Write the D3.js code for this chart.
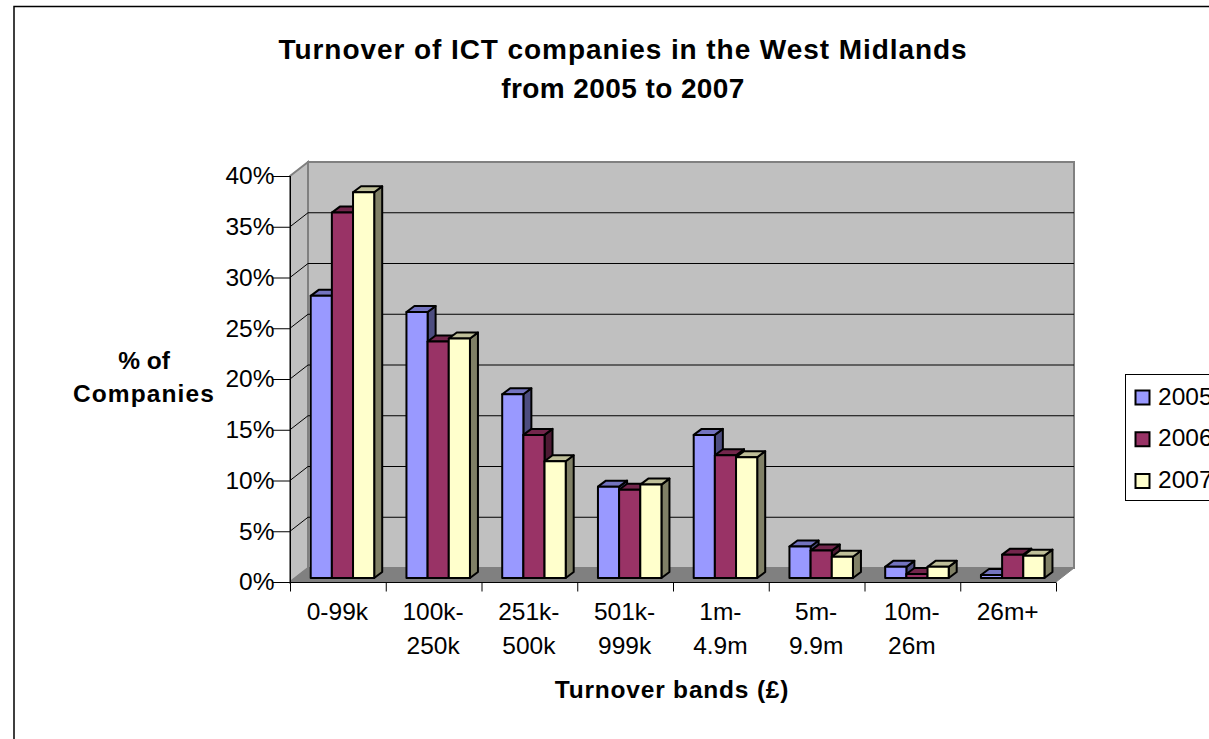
<!DOCTYPE html>
<html>
<head>
<meta charset="utf-8">
<script src="https://cdn.jsdelivr.net/npm/d3@7"></script>
<style>
	html, body { margin: 0; padding: 0; background: #fff; overflow: hidden; }
	text { font-family: "Liberation Sans", Arial, sans-serif; fill: #000; }
</style>
</head>
<body>
<div id="wrapper"></div>
<script>
// data
const bands = ["0-99k", "100k-|250k", "251k-|500k", "501k-|999k", "1m-|4.9m", "5m-|9.9m", "10m-|26m", "26m+"];
const years = ["2005", "2006", "2007"];
const values2005 = [27.8, 26.2, 18.1, 9.0, 14.1, 3.1, 1.1, 0.3];
const values2006 = [36.0, 23.3, 14.1, 8.7, 12.1, 2.7, 0.4, 2.3];
const values2007 = [38.0, 23.6, 11.5, 9.2, 11.9, 2.1, 1.1, 2.2];
const yTicks = [0, 5, 10, 15, 20, 25, 30, 35, 40];
const seriesValues = [values2005, values2006, values2007];

const frontColors = ["#9999ff", "#993366", "#ffffcc"];
const topColors = ["#7373bf", "#73264c", "#bfbf99"];
const sideColors = ["#4d4d80", "#4d1a33", "#808066"];

const width = 1209;
const height = 739;
const wall = { dx: 18, dy: -14 };   // depth of the whole box
const barDepth = { dx: 8, dy: -6 }; // depth of a bar
const barShift = { dx: 3, dy: -4 }; // bars stand a bit inside the floor

const svg = d3.select("#wrapper").append("svg").attr("width", width).attr("height", height);

// outer frame
svg.append("rect")
	.attr("x", 14).attr("y", 6.5).attr("width", width).attr("height", 800)
	.attr("fill", "#fff").attr("stroke", "#000").attr("stroke-width", 1.5);

// scales
const xScale = d3.scaleBand().domain(bands).range([290, 1056]).paddingInner(0).paddingOuter(0);
const yScale = d3.scaleLinear().domain([0, 40]).range([582, 176]);
const x0 = xScale.range()[0];
const x1 = xScale.range()[1];
const y0 = yScale(0);
const yTop = yScale(40);

// box: back wall, left wall, floor
const pts = (a) => a.map((p) => p.join(",")).join(" ");
svg.append("polygon")
	.attr("points", pts([[x0 + wall.dx, yTop + wall.dy], [x1 + wall.dx, yTop + wall.dy], [x1 + wall.dx, y0 + wall.dy], [x0 + wall.dx, y0 + wall.dy]]))
	.attr("fill", "#c0c0c0").attr("stroke", "#808080").attr("stroke-width", 2);
svg.append("polygon")
	.attr("points", pts([[x0, yTop], [x0 + wall.dx, yTop + wall.dy], [x0 + wall.dx, y0 + wall.dy], [x0, y0]]))
	.attr("fill", "#c0c0c0").attr("stroke", "#808080").attr("stroke-width", 2);

// gridlines
svg.append("g").selectAll("path")
	.data(yTicks.slice(1, -1))
	.join("path")
	.attr("d", (d) => `M${x0},${yScale(d)}L${x0 + wall.dx},${yScale(d) + wall.dy}L${x1 + wall.dx},${yScale(d) + wall.dy}`)
	.attr("fill", "none").attr("stroke", "#000");

svg.append("polygon")
	.attr("points", pts([[x0, y0], [x1, y0], [x1 + wall.dx, y0 + wall.dy], [x0 + wall.dx, y0 + wall.dy]]))
	.attr("fill", "#808080").attr("stroke", "#808080");

// axes
const yAxis = d3.axisLeft(yScale).tickValues(yTicks).tickSize(18).tickPadding(-2).tickFormat((d) => d + "%");
const yG = svg.append("g").attr("transform", `translate(${x0 + 0.5},0)`).call(yAxis);
yG.select(".domain").attr("stroke", "#000").attr("d", `M0,${yTop}V${y0}`);
yG.selectAll("text").style("font-size", "24.5px").attr("font-family", null);

const xAxis = d3.axisBottom(xScale).tickSize(0).tickFormat("");
const xG = svg.append("g").attr("transform", `translate(0,${y0 + 0.5})`).call(xAxis);
xG.select(".domain").attr("stroke", "#000").attr("d", `M${x0},0H${x1}`);
xG.selectAll(".tick").remove();
xG.selectAll(".sep")
	.data(d3.range(bands.length + 1))
	.join("line")
	.attr("class", "sep")
	.attr("x1", (i) => x0 + i * xScale.step() + 0.5)
	.attr("x2", (i) => x0 + i * xScale.step() + 0.5)
	.attr("y1", 0).attr("y2", 9)
	.attr("stroke", "#000");

const bandLabels = svg.append("g").selectAll("text")
	.data(bands)
	.join("text")
	.attr("x", (d) => xScale(d) + xScale.step() / 2 - 0.5)
	.attr("y", 620)
	.attr("text-anchor", "middle")
	.style("font-size", "24.5px");
bandLabels.selectAll("tspan")
	.data((d) => d.split("|").map((t) => ({ t, x: xScale(d) + xScale.step() / 2 - 0.5 })))
	.join("tspan")
	.attr("x", (d) => d.x)
	.attr("dy", (d, i) => (i ? 34 : 0))
	.text((d) => d.t);

// bars
const barX = d3.scaleBand().domain(years).range([0, 63.5]);
const barOffset = 20.7;
const drawBar = (g, xLeft, w, yBar, i) => {
	const right = xLeft + w;
	const base = y0 + barShift.dy;
	const top = yBar + barShift.dy;
	g.append("polygon")
		.attr("points", pts([[right, top], [right + barDepth.dx, top + barDepth.dy], [right + barDepth.dx, base + barDepth.dy], [right, base]]))
		.attr("fill", sideColors[i]);
	g.append("polygon")
		.attr("points", pts([[xLeft, top], [xLeft + barDepth.dx, top + barDepth.dy], [right + barDepth.dx, top + barDepth.dy], [right, top]]))
		.attr("fill", topColors[i]);
	g.append("rect")
		.attr("x", xLeft).attr("y", top).attr("width", w).attr("height", base - top)
		.attr("fill", frontColors[i]);
	g.selectAll("polygon, rect").attr("stroke", "#000").attr("stroke-width", 2).attr("stroke-linejoin", "round");
};
const barsG = svg.append("g");
bands.forEach((band, b) => {
	// later series cover the side of earlier ones
	years.forEach((year, i) => {
		const g = barsG.append("g");
		drawBar(g, xScale(band) + barOffset + barX(year), barX.bandwidth(), yScale(seriesValues[i][b]), i);
	});
});

// titles
const title = svg.append("text")
	.attr("text-anchor", "middle")
	.style("font-size", "28px").style("font-weight", "bold");
[["Turnover of ICT companies in the West Midlands", 0.93], ["from 2005 to 2007", 0.42]].forEach(([t, ls], i) => {
	title.append("tspan").attr("x", 623).attr("y", 59 + i * 39).style("letter-spacing", ls + "px").text(t);
});
const yTitle = svg.append("text")
	.attr("text-anchor", "middle")
	.style("font-size", "24.5px").style("font-weight", "bold");
[["% of", 0], ["Companies", 1.1]].forEach(([t, ls], i) => {
	yTitle.append("tspan").attr("x", 144).attr("y", 369 + i * 33).style("letter-spacing", ls + "px").text(t);
});
svg.append("text")
	.attr("x", 672).attr("y", 698)
	.attr("text-anchor", "middle")
	.style("font-size", "24.5px").style("font-weight", "bold").style("letter-spacing", "0.8px")
	.text("Turnover bands (£)");

// legend
const legend = svg.append("g");
legend.append("rect")
	.attr("x", 1125.5).attr("y", 374.5).attr("width", 120).attr("height", 126)
	.attr("fill", "#fff").attr("stroke", "#000");
const legendRow = d3.scalePoint().domain(years).range([397.5, 481]);
legend.selectAll("rect.key")
	.data(years)
	.join("rect")
	.attr("class", "key")
	.attr("x", 1135.5)
	.attr("y", (d) => legendRow(d) - 7)
	.attr("width", 14).attr("height", 14)
	.attr("fill", (d, i) => frontColors[i])
	.attr("stroke", "#000").attr("stroke-width", 2);
legend.selectAll("text")
	.data(years)
	.join("text")
	.attr("x", 1158)
	.attr("y", (d) => legendRow(d) + 7)
	.style("font-size", "24.5px")
	.text((d) => d);
</script>
</body>
</html>
